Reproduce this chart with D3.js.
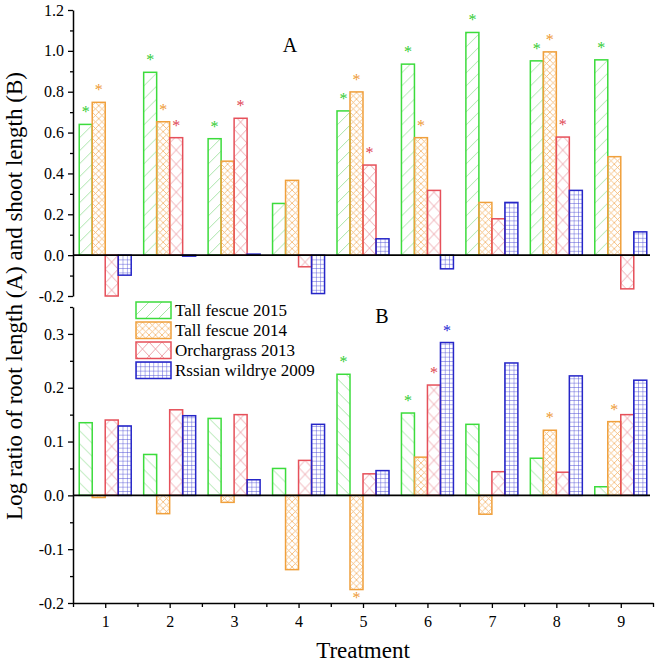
<!DOCTYPE html>
<html><head><meta charset="utf-8">
<script src="https://cdn.jsdelivr.net/npm/d3@7"></script>
<style>body{margin:0;background:#fff}svg{display:block}text{font-family:"Liberation Serif","Times New Roman",serif}</style>
</head><body><svg id="c" width="656" height="665"></svg>
<script>
// ---------- data ----------
const categories = [1, 2, 3, 4, 5, 6, 7, 8, 9];
const seriesNames = ["Tall fescue 2015", "Tall fescue 2014", "Orchargrass 2013", "Rssian wildrye 2009"];
const yTicksA = [-0.2, 0.0, 0.2, 0.4, 0.6, 0.8, 1.0, 1.2];
const yTicksB = [-0.2, -0.1, 0.0, 0.1, 0.2, 0.3];

// Panel A: log ratio of root length
const rootTF2015 = [0.640, 0.895, 0.570, 0.253, 0.706, 0.935, 1.090, 0.951, 0.956];
const rootTF2014 = [0.748, 0.653, 0.460, 0.366, 0.799, 0.575, 0.258, 0.995, 0.482];
const rootOG2013 = [-0.200, 0.575, 0.670, -0.057, 0.441, 0.317, 0.178, 0.578, -0.165];
const rootRW2009 = [-0.098, -0.005, 0.005, -0.188, 0.080, -0.067, 0.258, 0.317, 0.114];
// Panel B: log ratio of shoot length
const shootTF2015 = [0.135, 0.076, 0.143, 0.050, 0.225, 0.153, 0.132, 0.069, 0.016];
const shootTF2014 = [-0.004, -0.034, -0.013, -0.138, -0.175, 0.071, -0.035, 0.121, 0.137];
const shootOG2013 = [0.140, 0.159, 0.150, 0.065, 0.040, 0.205, 0.044, 0.043, 0.150];
const shootRW2009 = [0.129, 0.148, 0.029, 0.132, 0.046, 0.284, 0.246, 0.222, 0.214];
// significance markers (1 = asterisk)
const sigRootTF2015 = [1, 1, 1, 0, 1, 1, 1, 1, 1];
const sigRootTF2014 = [1, 1, 0, 0, 1, 1, 0, 1, 0];
const sigRootOG2013 = [0, 1, 1, 0, 1, 0, 0, 1, 0];
const sigRootRW2009 = [0, 0, 0, 0, 0, 0, 0, 0, 0];
const sigShootTF2015 = [0, 0, 0, 0, 1, 1, 0, 0, 0];
const sigShootTF2014 = [0, 0, 0, 0, 1, 0, 0, 1, 1];
const sigShootOG2013 = [0, 0, 0, 0, 0, 1, 0, 0, 0];
const sigShootRW2009 = [0, 0, 0, 0, 0, 1, 0, 0, 0];

// ---------- styles ----------
const strokeCol = ["#3cdc3c", "#f0a03c", "#e6505a", "#2626c8"];
const patCol = ["#9fe29f", "#f3b56c", "#e9929a", "#4d4dd6"];
const starCol = ["#33cc33", "#ee9a35", "#e04552", "#2424d4"];

const svg = d3.select("#c");
const defs = svg.append("defs");

const x = d3.scaleLinear().domain([0.5, 9.5]).range([73, 653]);
const inner = d3.scaleBand().domain(d3.range(4)).range([-26, 26]);
const yA = d3.scaleLinear().domain([-0.2, 1.2]).range([296, 10]);
const yB = d3.scaleLinear().domain([-0.2, 0.35]).range([603, 307]);

function makePattern(id, type, x0, y0) {
  let w, h;
  if (type === "slash" || type === "back") { w = 13; h = 13; }
  else if (type === "cross") { w = 6.5; h = 6.5; }
  else if (type === "x") { w = 13; h = 14; }
  else { w = 13 / 3; h = 13 / 3; }
  const p = defs.append("pattern").attr("id", id).attr("patternUnits", "userSpaceOnUse")
    .attr("x", x0).attr("y", y0).attr("width", w).attr("height", h);
  const line = (a, b, c, d, col, sw) => p.append("line").attr("x1", a).attr("y1", b).attr("x2", c).attr("y2", d)
    .attr("stroke", col).attr("stroke-width", sw);
  if (type === "slash") {
    line(-1, h + 1, w + 1, -1, patCol[0], 0.9);
  } else if (type === "back") {
    line(-1, -1, w + 1, h + 1, patCol[0], 0.9);
  } else if (type === "cross") {
    line(-1, -1, w + 1, h + 1, patCol[1], 0.8);
    line(-1, h + 1, w + 1, -1, patCol[1], 0.8);
  } else if (type === "x") {
    line(0, 0, w, h, patCol[2], 0.8);
    line(0, h, w, 0, patCol[2], 0.8);
  } else {
    line(0, 0, w, 0, patCol[3], 0.9);
    line(0, 0, 0, h, patCol[3], 0.9);
  }
}

const panels = [
  { key: "A", y: yA, vals: [rootTF2015, rootTF2014, rootOG2013, rootRW2009],
    sig: [sigRootTF2015, sigRootTF2014, sigRootOG2013, sigRootRW2009], types: ["slash", "cross", "x", "grid"] },
  { key: "B", y: yB, vals: [shootTF2015, shootTF2014, shootOG2013, shootRW2009],
    sig: [sigShootTF2015, sigShootTF2014, sigShootOG2013, sigShootRW2009], types: ["back", "cross", "x", "grid"] }
];

panels.forEach(P => {
  const g = svg.append("g");
  const bars = [];
  P.vals.forEach((arr, s) => arr.forEach((v, i) => bars.push({ s, i, v, c: categories[i], sig: P.sig[s][i] })));
  bars.forEach(d => {
    const bx = x(d.c) + inner(d.s);
    const id = `p${P.key}_${d.s}_${d.i}`;
    makePattern(id, P.types[d.s], bx, P.y(0));
    const y1 = P.y(Math.max(d.v, 0)), y2 = P.y(Math.min(d.v, 0));
    g.append("rect").attr("x", bx).attr("y", y1).attr("width", inner.bandwidth())
      .attr("height", Math.max(y2 - y1, 0.5))
      .attr("fill", `url(#${id})`).attr("stroke", strokeCol[d.s]).attr("stroke-width", 1.5);
    if (d.sig) {
      const cx = bx + inner.bandwidth() / 2;
      const ty = d.v >= 0 ? P.y(d.v) - 7 : P.y(d.v) + 13;
      g.append("text").attr("x", cx).attr("y", ty).attr("text-anchor", "middle")
        .attr("font-size", 16).attr("fill", starCol[d.s]).text("*");
    }
  });
  // zero line
  svg.append("line").attr("x1", x(0.5)).attr("x2", 650).attr("y1", P.y(0)).attr("y2", P.y(0))
    .attr("stroke", "#000").attr("stroke-width", 1.6);
});

const fmt = d => d.toFixed(1);
function styleAxis(g) {
  g.attr("font-family", '"Liberation Serif","Times New Roman",serif').attr("font-size", 16);
  g.selectAll("path.domain").attr("stroke", "#000").attr("stroke-width", 1.5);
  g.selectAll(".tick line").attr("stroke", "#000").attr("stroke-width", 1.3);
  g.selectAll(".tick text").attr("fill", "#000");
}
// Panel A y axis
const axA = svg.append("g").attr("transform", "translate(73,0)")
  .call(d3.axisLeft(yA).tickValues(yTicksA).tickFormat(fmt).tickSize(5).tickPadding(4).tickSizeOuter(0));
styleAxis(axA);
const axAm = svg.append("g").attr("transform", "translate(73,0)")
  .call(d3.axisLeft(yA).tickValues(d3.range(-1, 12, 2).map(v => v / 10)).tickFormat("").tickSize(3));
axAm.select(".domain").remove(); styleAxis(axAm);
// Panel B y axis
const axB = svg.append("g").attr("transform", "translate(73,0)")
  .call(d3.axisLeft(yB).tickValues(yTicksB).tickFormat(fmt).tickSize(5).tickPadding(4).tickSizeOuter(0));
styleAxis(axB);
const axBm = svg.append("g").attr("transform", "translate(73,0)")
  .call(d3.axisLeft(yB).tickValues([-0.15, -0.05, 0.05, 0.15, 0.25, 0.35]).tickFormat("").tickSize(3));
axBm.select(".domain").remove(); styleAxis(axBm);
// X axis
const axX = svg.append("g").attr("transform", "translate(0,603)")
  .call(d3.axisBottom(x).tickValues(categories).tickSize(5).tickPadding(8).tickSizeOuter(0));
styleAxis(axX);
const axXm = svg.append("g").attr("transform", "translate(0,603)")
  .call(d3.axisBottom(x).tickValues(d3.range(0.5, 10, 1)).tickFormat("").tickSize(4));
axXm.select(".domain").remove(); styleAxis(axXm);

// panel letters
svg.append("text").attr("x", 290).attr("y", 52).attr("text-anchor", "middle").attr("font-size", 20).text("A");
svg.append("text").attr("x", 382).attr("y", 323).attr("text-anchor", "middle").attr("font-size", 20).text("B");

// axis titles
svg.append("text").attr("transform", "translate(22,296) rotate(-90)").attr("text-anchor", "middle")
  .attr("font-size", 23).text("Log ratio of root length (A) and shoot length (B)");
svg.append("text").attr("x", 363).attr("y", 658).attr("text-anchor", "middle").attr("font-size", 23).text("Treatment");

// legend
const legTypes = ["slash", "cross", "x", "grid"];
seriesNames.forEach((name, s) => {
  const ly = 302 + s * 20;
  const id = `leg${s}`;
  makePattern(id, legTypes[s], 136, ly);
  svg.append("rect").attr("x", 136).attr("y", ly).attr("width", 35).attr("height", 16.5)
    .attr("fill", `url(#${id})`).attr("stroke", strokeCol[s]).attr("stroke-width", 1.5);
  svg.append("text").attr("x", 175).attr("y", ly + 14).attr("font-size", 17).text(name);
});
</script></body></html>
